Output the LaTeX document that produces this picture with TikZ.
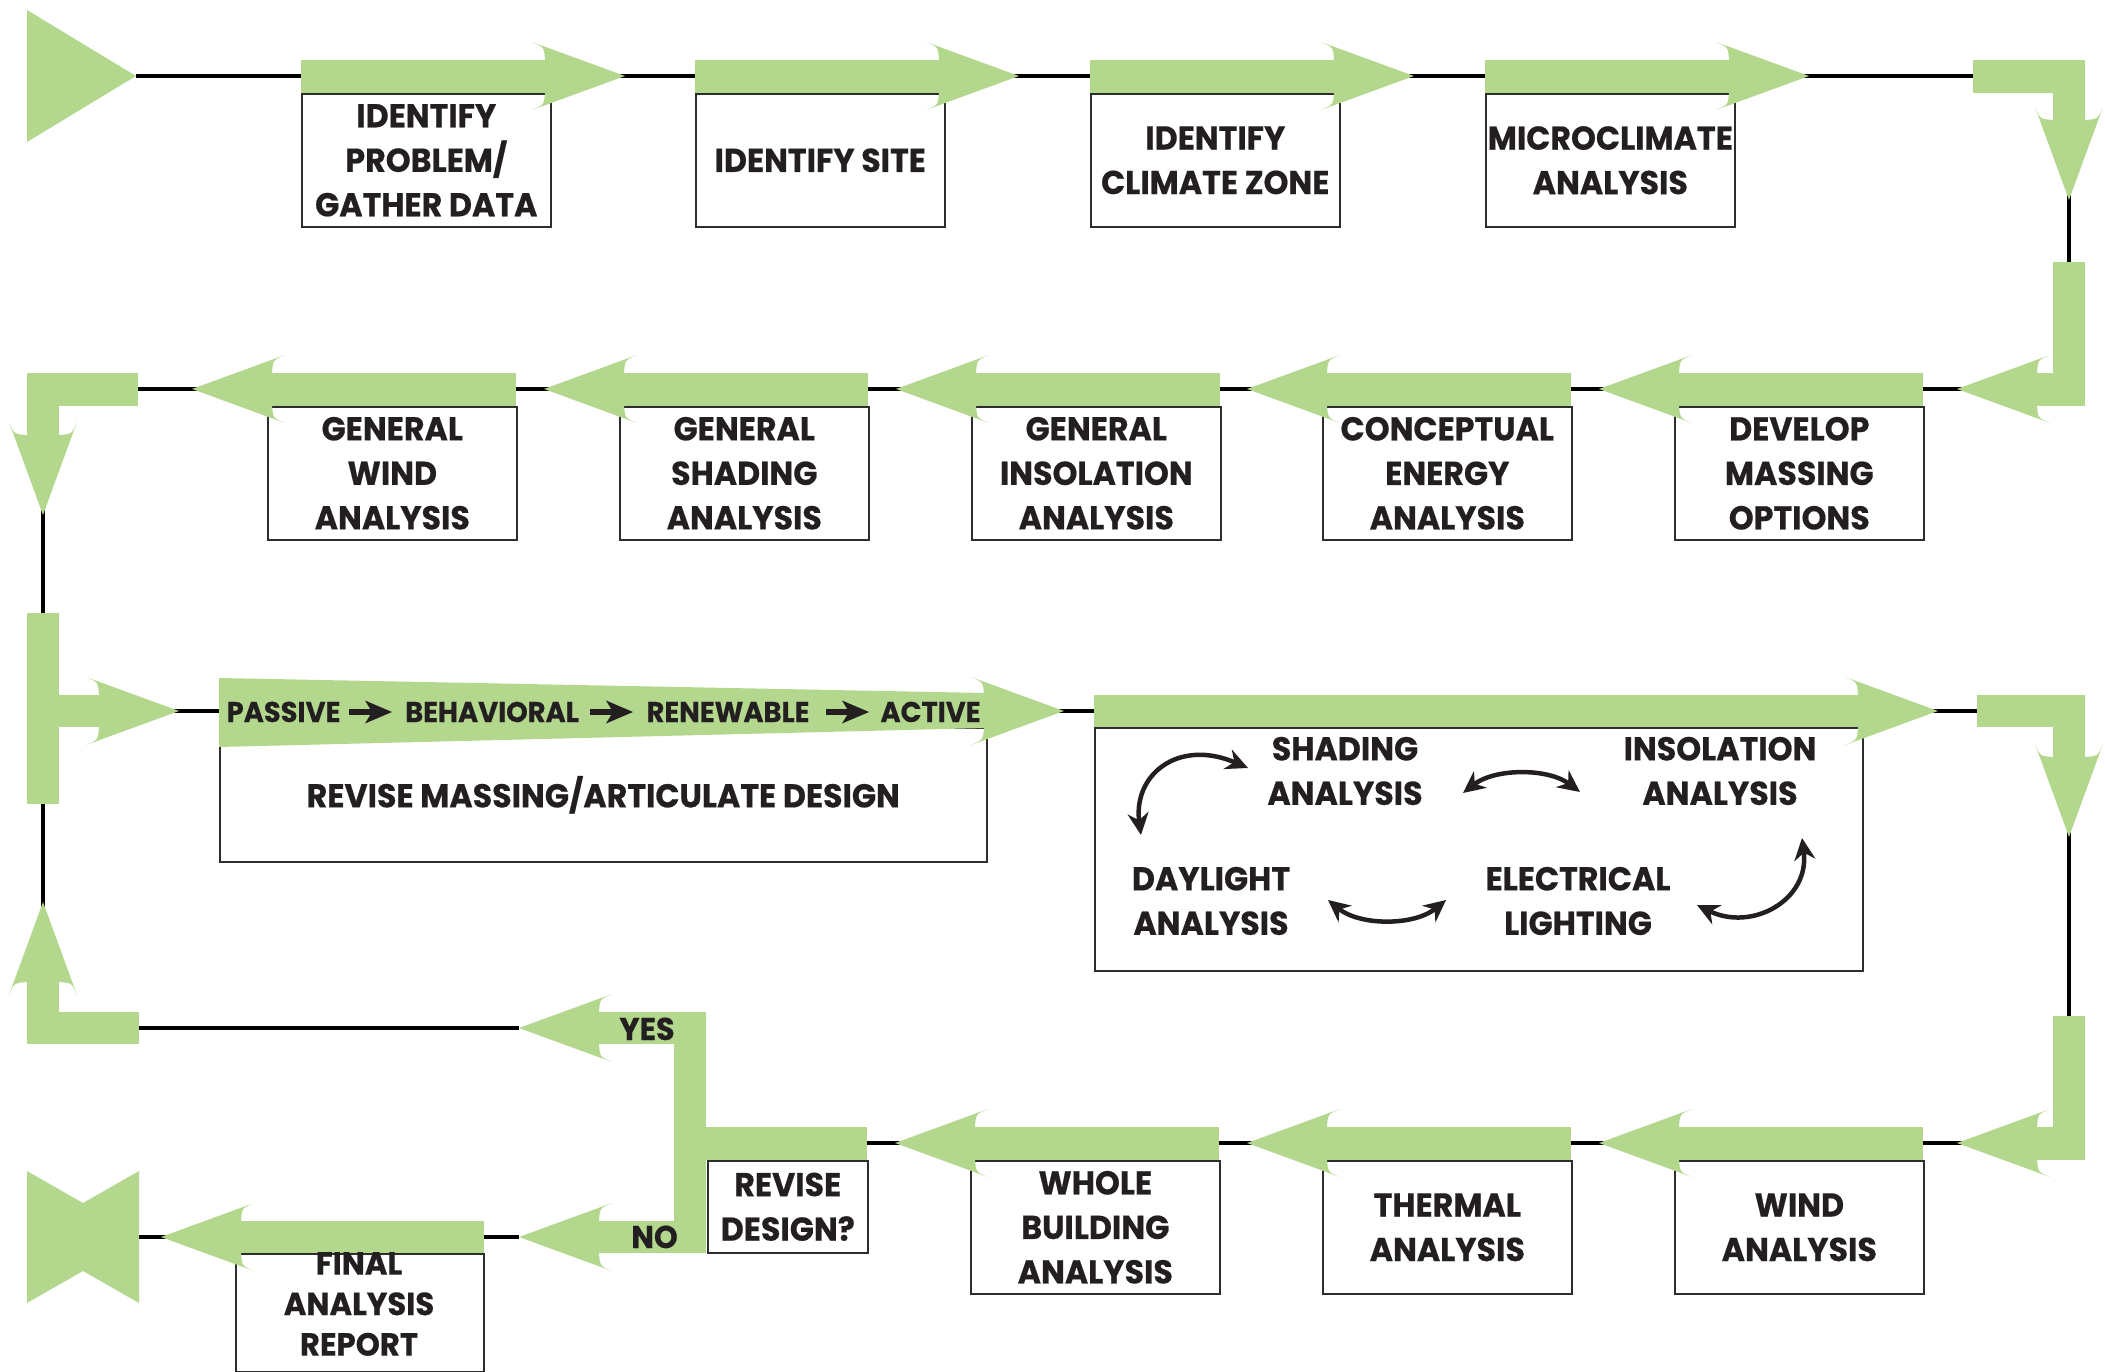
\documentclass[tikz,border=0pt]{standalone}
\usepackage{fontspec}
\newfontfamily\bx{Poppins}[FakeStretch=0.96,FakeBold=0.5]
\usetikzlibrary{arrows.meta}
\definecolor{gr}{RGB}{179,216,141}
\definecolor{txt}{RGB}{35,31,32}
\definecolor{bline}{RGB}{45,45,45}
\newcommand\headR[2]{\fill[gr,shift={(#1,#2)}] (0,0) -- (-93,-34) .. controls (-81,-29) .. (-80,-16.5) -- (-80,16.5) .. controls (-81,29) .. (-93,34) -- cycle;}
\newcommand\headL[2]{\fill[gr,shift={(#1,#2)}] (0,0) -- (93,-34) .. controls (81,-29) .. (80,-16.5) -- (80,16.5) .. controls (81,29) .. (93,34) -- cycle;}
\newcommand\headD[2]{\fill[gr,shift={(#1,#2)}] (0,0) -- (-34,-93) .. controls (-29,-81) .. (-16.5,-80) -- (16.5,-80) .. controls (29,-81) .. (34,-93) -- cycle;}
\newcommand\headU[2]{\fill[gr,shift={(#1,#2)}] (0,0) -- (-34,93) .. controls (-29,81) .. (-16.5,80) -- (16.5,80) .. controls (29,81) .. (34,93) -- cycle;}
\newcommand\smallarr[1]{\fill[txt,shift={(#1,712)}] (0,-3.4) rectangle (25,3.4); \fill[txt,shift={(#1,712)}] (43,0) -- (16,-11.5) -- (23,0) -- (16,11.5) -- cycle;}
\begin{document}
\begin{tikzpicture}[x=1pt,y=-1pt,
  box/.style={draw=bline, line width=1.6pt, fill=white, inner sep=0pt, anchor=north west,
    minimum width=249pt, minimum height=133pt, align=center, text=txt,
    font=\bx\bfseries\fontsize{33}{44.5}\selectfont},
  lbl/.style={inner sep=0pt, align=center, text=txt, font=\bx\bfseries\fontsize{33}{44.5}\selectfont},
  band/.style={inner sep=0pt, anchor=base, text=txt, font=\bx\bfseries\fontsize{28.5}{30}\selectfont},
  conn/.style={line width=4pt, black},
  cyc/.style={line width=4.5pt, txt, {Stealth[length=22pt,width=21pt]}-{Stealth[length=22pt,width=21pt]}}]
\useasboundingbox (0,0) rectangle (2105,1372);
\clip (0,0) rectangle (2105,1372);
% ---------- connector lines
\coordinate (s) at (136,76);
\coordinate (c1) at (2069,76);
\coordinate (c2) at (2069,389);
\coordinate (c3) at (43,389);
\coordinate (c4) at (43,1028);
\coordinate (yt) at (519,1028);
\coordinate (m1) at (43,711);
\coordinate (m2) at (2069,711);
\coordinate (m3) at (2069,1143);
\coordinate (m4) at (707,1143);
\coordinate (nt) at (519,1237);
\coordinate (e1) at (139,1237);
\draw[conn] (s) -- (c1) -- (c2) -- (c3) -- (c4) -- (yt);
\draw[conn] (m1) -- (m2) -- (m3) -- (m4);
\draw[conn] (nt) -- (e1);
% ---------- boxes
\node[box] (b1) at (301,93) {IDENTIFY\\PROBLEM/\\GATHER DATA};
\node[box] (b2) at (695,93) {IDENTIFY SITE};
\node[box] (b3) at (1090,93) {IDENTIFY\\CLIMATE ZONE};
\node[box] (b4) at (1485,93) {MICROCLIMATE\\ANALYSIS};
\node[box] (d1) at (1674,406) {DEVELOP\\MASSING\\OPTIONS};
\node[box] (d2) at (1322,406) {CONCEPTUAL\\ENERGY\\ANALYSIS};
\node[box] (d3) at (971,406) {GENERAL\\INSOLATION\\ANALYSIS};
\node[box] (d4) at (619,406) {GENERAL\\SHADING\\ANALYSIS};
\node[box] (d5) at (267,406) {GENERAL\\WIND\\ANALYSIS};
\node[box, minimum width=767pt, minimum height=134pt] (rm) at (219,727) {REVISE MASSING/ARTICULATE DESIGN};
\node[box, minimum width=768pt, minimum height=243pt] (cy) at (1094,727) {};
\node[box] (w1) at (1674,1160) {WIND\\ANALYSIS};
\node[box] (w2) at (1322,1160) {THERMAL\\ANALYSIS};
\node[box] (w3) at (970,1160) {WHOLE\\BUILDING\\ANALYSIS};
\node[box, minimum width=160pt, minimum height=92pt] (rd) at (707,1160) {REVISE\\DESIGN?};
\node[box, minimum width=248pt, minimum height=118pt] (fin) at (235,1253) {};
% ---------- green flow arrows
\fill[gr] (27,10) -- (136,76) -- (27,142) -- cycle;
\foreach \L in {301,695,1090,1485}{\fill[gr] (\L,60) rectangle ({\L+245},93); \headR{\L+324}{76}}
\fill[gr] (1973,60) rectangle (2085,93);
\fill[gr] (2053,60) rectangle (2085,122);
\headD{2069}{200}
\fill[gr] (2053,262) rectangle (2085,406);
\fill[gr] (2036,373) rectangle (2085,406);
\headL{1957}{389}
\foreach \L in {267,619,971,1322,1674}{\fill[gr] ({\L+4},373) rectangle ({\L+249},406); \headL{\L-75}{389}}
\fill[gr] (27,373) rectangle (138,406);
\fill[gr] (27,373) rectangle (59,437);
\headD{43}{515}
\fill[gr] (27,613) rectangle (59,804);
\fill[gr] (59,695) rectangle (101,727);
\headR{179}{711}
\fill[gr] (219,678) -- (985,693) -- (985,728) -- (219,747) -- cycle;
\headR{1064}{711}
\fill[gr] (1094,695) rectangle (1860,727);
\headR{1938}{711}
\fill[gr] (1977,695) rectangle (2085,727);
\fill[gr] (2053,695) rectangle (2085,759);
\headD{2069}{837}
\fill[gr] (2053,1016) rectangle (2085,1160);
\fill[gr] (2036,1127) rectangle (2085,1160);
\headL{1957}{1143}
\foreach \L in {970,1322,1674}{\fill[gr] ({\L+4},1127) rectangle ({\L+249},1160); \headL{\L-75}{1143}}
\fill[gr] (674,1127) rectangle (867,1160);
\fill[gr] (674,1012) rectangle (706,1253);
\fill[gr] (598,1012) rectangle (706,1044);
\headL{519}{1028}
\fill[gr] (598,1221) rectangle (706,1253);
\headL{519}{1237}
\fill[gr] (240,1221) rectangle (484,1253);
\headL{161}{1237}
\fill[gr] (27,1012) rectangle (139,1044);
\fill[gr] (27,981) rectangle (59,1044);
\headU{43}{902}
\fill[gr] (27,1171) -- (83,1203) -- (139,1171) -- (139,1303) -- (83,1271) -- (27,1303) -- cycle;
% ---------- band text
\node[band] (pa) at (283.5,722) {PASSIVE};
\node[band] (be) at (492,722) {BEHAVIORAL};
\node[band] (re) at (728,722) {RENEWABLE};
\node[band] (ac) at (930.5,722) {ACTIVE};
\smallarr{349}
\smallarr{590}
\smallarr{826}
% ---------- other labels
\node[lbl, font=\bx\bfseries\fontsize{32}{40.5}\selectfont] (fintext) at (359,1304) {FINAL\\ANALYSIS\\REPORT};
\node[band, font=\bx\bfseries\fontsize{31.5}{33}\selectfont] (yes) at (647,1040) {YES};
\node[band, font=\bx\bfseries\fontsize{31.5}{33}\selectfont] (no) at (654.5,1248) {NO};
% ---------- analysis cycle
\node[lbl] (shd) at (1345,771) {SHADING\\ANALYSIS};
\node[lbl] (ins) at (1720,771) {INSOLATION\\ANALYSIS};
\node[lbl] (day) at (1211,901) {DAYLIGHT\\ANALYSIS};
\node[lbl] (ele) at (1578,901) {ELECTRICAL\\LIGHTING};
\coordinate (a1) at (1141,835);
\coordinate (a2) at (1248,768);
\coordinate (a3) at (1463,793);
\coordinate (a4) at (1580,792);
\coordinate (a5) at (1802,838);
\coordinate (a6) at (1697,905);
\coordinate (a7) at (1328,900);
\coordinate (a8) at (1446,900);
\draw[cyc] (a1) .. controls (1133,775) and (1178,738) .. (a2);
\draw[cyc] (a3) .. controls (1495,768) and (1548,768) .. (a4);
\draw[cyc] (a5) .. controls (1810,900) and (1752,932) .. (a6);
\draw[cyc] (a7) .. controls (1360,926) and (1414,926) .. (a8);
\end{tikzpicture}
\end{document}
